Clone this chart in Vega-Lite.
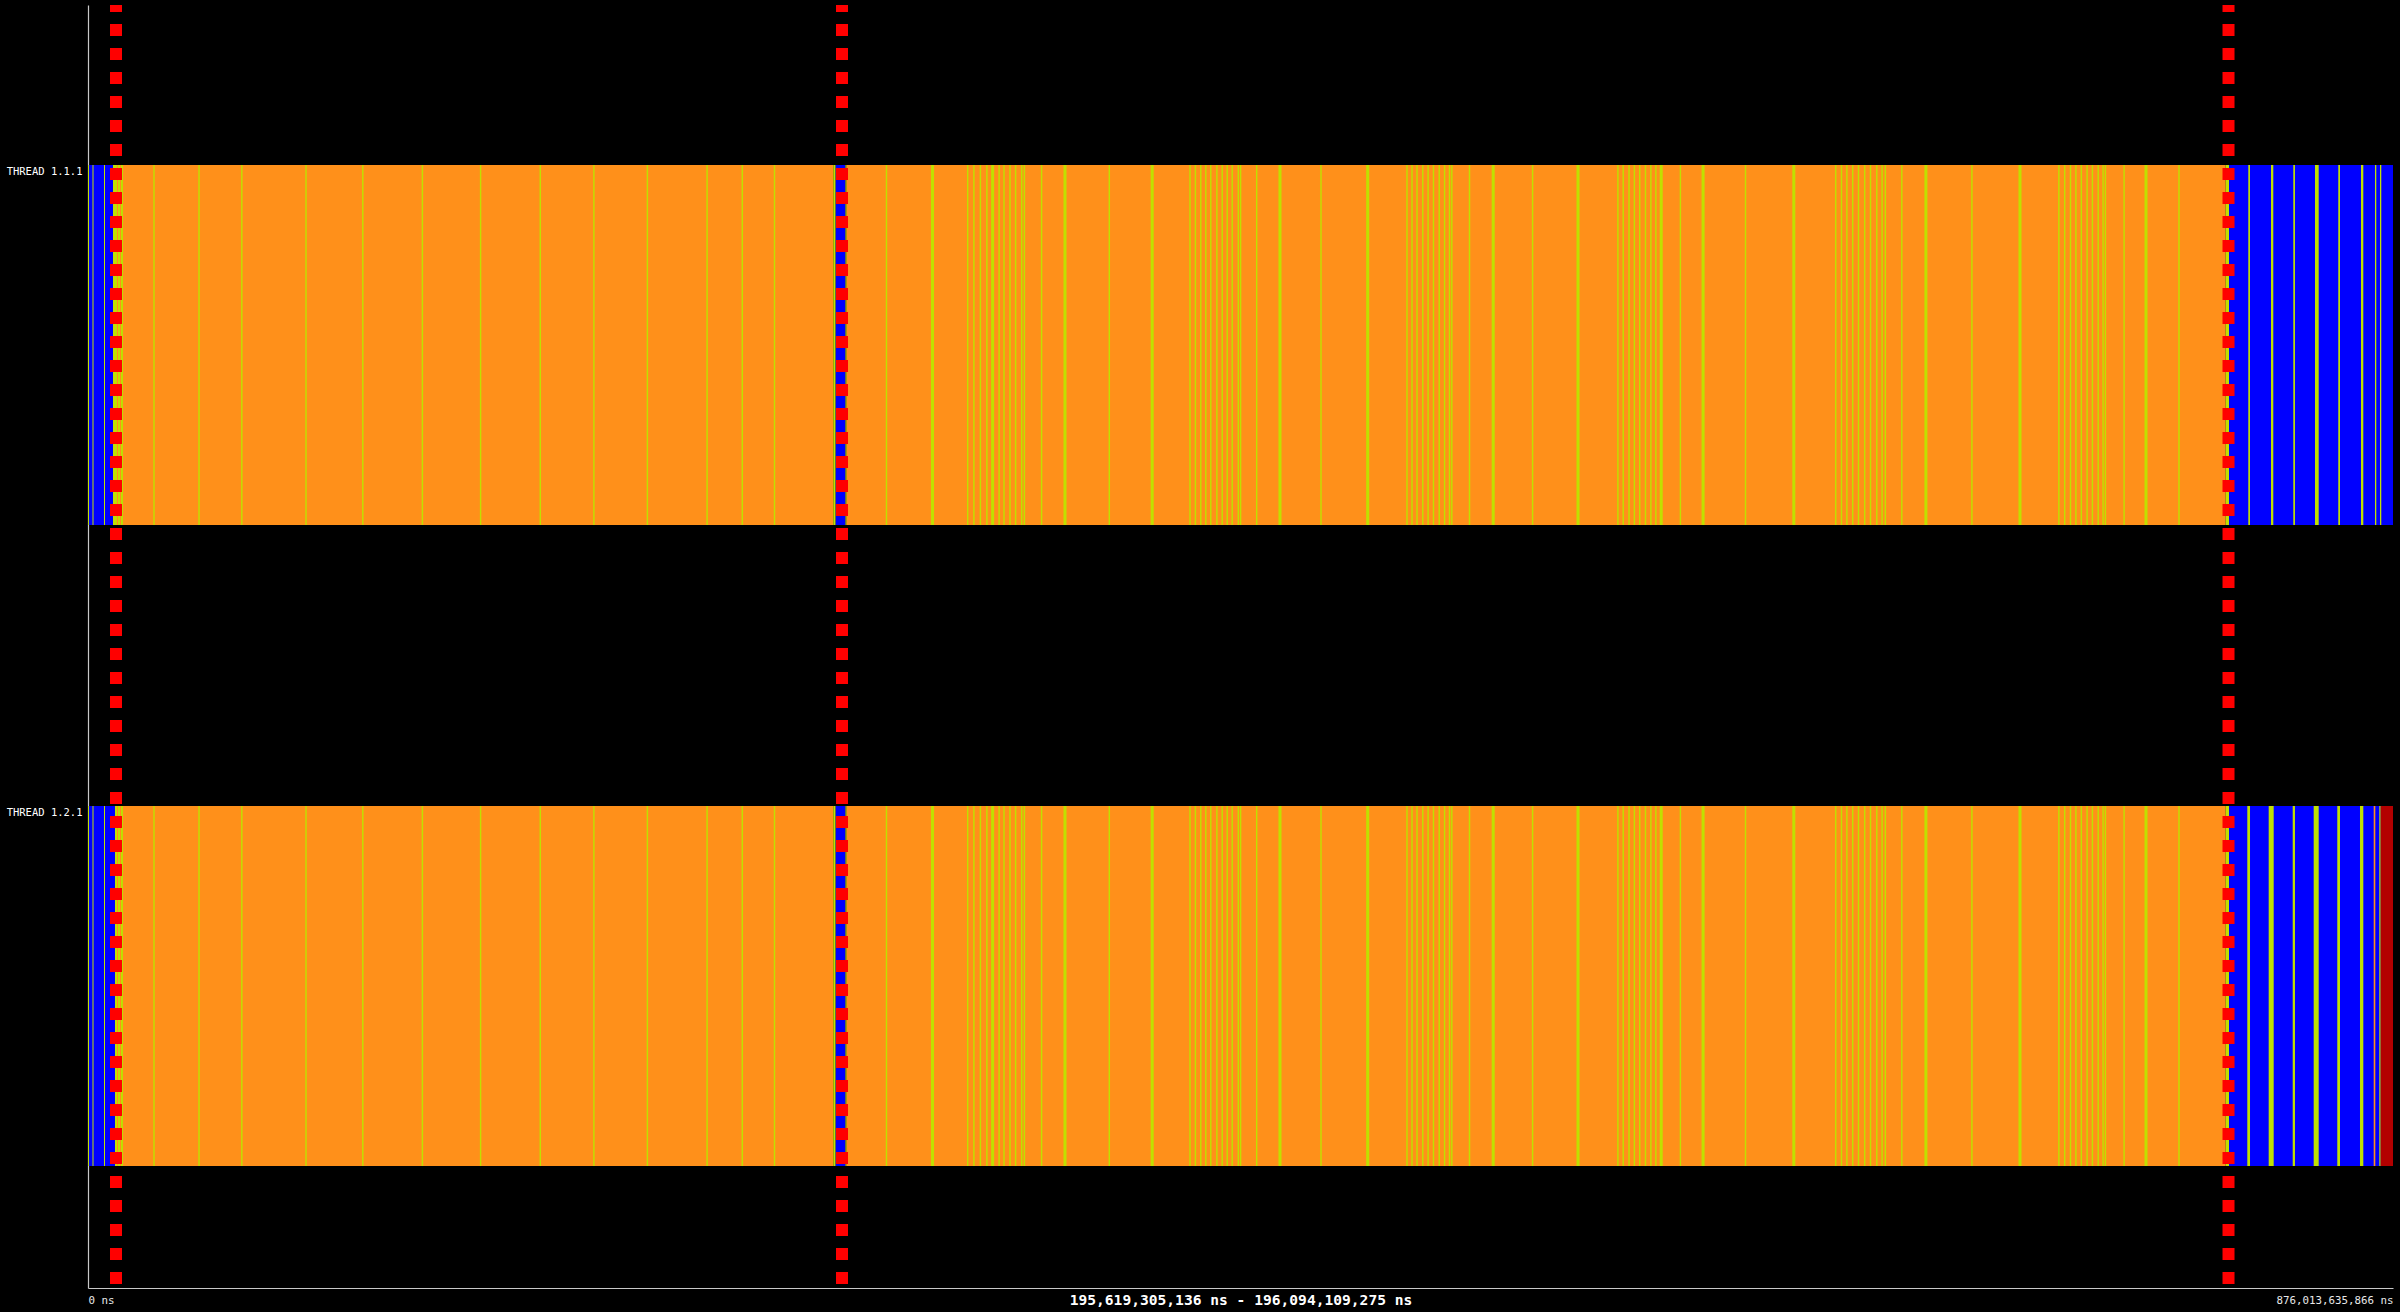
{
  "$schema": "https://vega.github.io/schema/vega-lite/v6.json",
  "width": 2305,
  "height": 1283,
  "autosize": {"type": "none"},
  "padding": {"left": 88, "top": 5, "right": 7, "bottom": 24},
  "background": "#000000",
  "config": {"view": {"stroke": null}, "font": "DejaVu Sans Mono"},
  "datasets": {
    "states": [
      {"thread": ["1.1.1", "1.2.1"], "state": "Others", "start": 0, "end": 0.38},
      {"thread": ["1.1.1"], "state": "Running", "start": 0.38, "end": 9.5},
      {"thread": ["1.2.1"], "state": "Running", "start": 0.38, "end": 10.26},
      {"thread": ["1.1.1", "1.2.1"], "state": "Others", "start": 1.71, "end": 2.09},
      {"thread": ["1.1.1", "1.2.1"], "state": "Others", "start": 6.08, "end": 6.46},
      {"thread": ["1.1.1"], "state": "Others", "start": 9.5, "end": 13.3},
      {"thread": ["1.2.1"], "state": "Others", "start": 10.26, "end": 13.3},
      {"thread": ["1.1.1", "1.2.1"], "state": "Group Communication", "start": 11.02, "end": 11.4},
      {"thread": ["1.1.1", "1.2.1"], "state": "Group Communication", "start": 12.16, "end": 12.54},
      {"thread": ["1.1.1", "1.2.1"], "state": "Group Communication", "start": 13.3, "end": 283.25},
      {"thread": ["1.1.1", "1.2.1"], "state": "Others", "start": 283.25, "end": 284.16},
      {"thread": ["1.1.1", "1.2.1"], "state": "Running", "start": 284.16, "end": 287.89},
      {"thread": ["1.1.1", "1.2.1"], "state": "Others", "start": 287.89, "end": 288.34},
      {"thread": ["1.1.1", "1.2.1"], "state": "Group Communication", "start": 288.34, "end": 812.43},
      {"thread": ["1.1.1", "1.2.1"], "state": "Others", "start": 812.43, "end": 813.69},
      {"thread": ["1.1.1", "1.2.1"], "state": "Running", "start": 813.69, "end": 876.013635866},
      {"thread": ["1.1.1", "1.2.1"], "state": "Others", "start": 24.81, "end": 25.36},
      {"thread": ["1.1.1", "1.2.1"], "state": "Others", "start": 41.91, "end": 42.46},
      {"thread": ["1.1.1", "1.2.1"], "state": "Others", "start": 58.18, "end": 58.73},
      {"thread": ["1.1.1", "1.2.1"], "state": "Others", "start": 82.58, "end": 83.13},
      {"thread": ["1.1.1", "1.2.1"], "state": "Others", "start": 104.16, "end": 104.71},
      {"thread": ["1.1.1", "1.2.1"], "state": "Others", "start": 126.81, "end": 127.36},
      {"thread": ["1.1.1", "1.2.1"], "state": "Others", "start": 148.93, "end": 149.48},
      {"thread": ["1.1.1", "1.2.1"], "state": "Others", "start": 171.62, "end": 172.17},
      {"thread": ["1.1.1", "1.2.1"], "state": "Others", "start": 191.99, "end": 192.54},
      {"thread": ["1.1.1", "1.2.1"], "state": "Others", "start": 212.32, "end": 212.87},
      {"thread": ["1.1.1", "1.2.1"], "state": "Others", "start": 235.01, "end": 235.56},
      {"thread": ["1.1.1", "1.2.1"], "state": "Others", "start": 248.39, "end": 248.94},
      {"thread": ["1.1.1", "1.2.1"], "state": "Others", "start": 260.63, "end": 261.18},
      {"thread": ["1.1.1", "1.2.1"], "state": "Others", "start": 303.19, "end": 303.74},
      {"thread": ["1.1.1", "1.2.1"], "state": "Others", "start": 320.38, "end": 321.53},
      {"thread": ["1.1.1", "1.2.1"], "state": "Others", "start": 334.05, "end": 334.6},
      {"thread": ["1.1.1", "1.2.1"], "state": "Others", "start": 336.41, "end": 336.96},
      {"thread": ["1.1.1", "1.2.1"], "state": "Others", "start": 338.88, "end": 339.43},
      {"thread": ["1.1.1", "1.2.1"], "state": "Others", "start": 341.35, "end": 341.9},
      {"thread": ["1.1.1", "1.2.1"], "state": "Others", "start": 343.22, "end": 344.37},
      {"thread": ["1.1.1", "1.2.1"], "state": "Others", "start": 345.99, "end": 346.54},
      {"thread": ["1.1.1", "1.2.1"], "state": "Others", "start": 347.85, "end": 348.4},
      {"thread": ["1.1.1", "1.2.1"], "state": "Others", "start": 350.13, "end": 350.68},
      {"thread": ["1.1.1", "1.2.1"], "state": "Others", "start": 352.26, "end": 352.81},
      {"thread": ["1.1.1", "1.2.1"], "state": "Others", "start": 354.58, "end": 355.13},
      {"thread": ["1.1.1", "1.2.1"], "state": "Others", "start": 355.6, "end": 356.15},
      {"thread": ["1.1.1", "1.2.1"], "state": "Others", "start": 362.14, "end": 362.69},
      {"thread": ["1.1.1", "1.2.1"], "state": "Others", "start": 370.73, "end": 371.88},
      {"thread": ["1.1.1", "1.2.1"], "state": "Others", "start": 387.87, "end": 388.42},
      {"thread": ["1.1.1", "1.2.1"], "state": "Others", "start": 403.87, "end": 405.02},
      {"thread": ["1.1.1", "1.2.1"], "state": "Others", "start": 418.54, "end": 419.09},
      {"thread": ["1.1.1", "1.2.1"], "state": "Others", "start": 420.59, "end": 421.14},
      {"thread": ["1.1.1", "1.2.1"], "state": "Others", "start": 422.64, "end": 423.19},
      {"thread": ["1.1.1", "1.2.1"], "state": "Others", "start": 424.54, "end": 425.09},
      {"thread": ["1.1.1", "1.2.1"], "state": "Others", "start": 426.44, "end": 426.99},
      {"thread": ["1.1.1", "1.2.1"], "state": "Others", "start": 428.76, "end": 429.31},
      {"thread": ["1.1.1", "1.2.1"], "state": "Others", "start": 430.78, "end": 431.33},
      {"thread": ["1.1.1", "1.2.1"], "state": "Others", "start": 432.68, "end": 433.23},
      {"thread": ["1.1.1", "1.2.1"], "state": "Others", "start": 434.58, "end": 435.13},
      {"thread": ["1.1.1", "1.2.1"], "state": "Others", "start": 436.9, "end": 437.45},
      {"thread": ["1.1.1", "1.2.1"], "state": "Others", "start": 437.77, "end": 438.32},
      {"thread": ["1.1.1", "1.2.1"], "state": "Others", "start": 443.89, "end": 444.44},
      {"thread": ["1.1.1", "1.2.1"], "state": "Others", "start": 452.44, "end": 453.59},
      {"thread": ["1.1.1", "1.2.1"], "state": "Others", "start": 468.33, "end": 468.88},
      {"thread": ["1.1.1", "1.2.1"], "state": "Others", "start": 485.77, "end": 486.92},
      {"thread": ["1.1.1", "1.2.1"], "state": "Others", "start": 501.01, "end": 501.56},
      {"thread": ["1.1.1", "1.2.1"], "state": "Others", "start": 502.91, "end": 503.46},
      {"thread": ["1.1.1", "1.2.1"], "state": "Others", "start": 504.81, "end": 505.36},
      {"thread": ["1.1.1", "1.2.1"], "state": "Others", "start": 507.01, "end": 507.56},
      {"thread": ["1.1.1", "1.2.1"], "state": "Others", "start": 509.03, "end": 509.58},
      {"thread": ["1.1.1", "1.2.1"], "state": "Others", "start": 511.08, "end": 511.63},
      {"thread": ["1.1.1", "1.2.1"], "state": "Others", "start": 513.25, "end": 513.8},
      {"thread": ["1.1.1", "1.2.1"], "state": "Others", "start": 515.3, "end": 515.85},
      {"thread": ["1.1.1", "1.2.1"], "state": "Others", "start": 517.16, "end": 517.71},
      {"thread": ["1.1.1", "1.2.1"], "state": "Others", "start": 518.04, "end": 518.59},
      {"thread": ["1.1.1", "1.2.1"], "state": "Others", "start": 524.76, "end": 525.31},
      {"thread": ["1.1.1", "1.2.1"], "state": "Others", "start": 533.47, "end": 534.62},
      {"thread": ["1.1.1", "1.2.1"], "state": "Others", "start": 548.74, "end": 549.29},
      {"thread": ["1.1.1", "1.2.1"], "state": "Others", "start": 565.7, "end": 566.85},
      {"thread": ["1.1.1", "1.2.1"], "state": "Others", "start": 581.16, "end": 581.71},
      {"thread": ["1.1.1", "1.2.1"], "state": "Others", "start": 583.18, "end": 583.73},
      {"thread": ["1.1.1", "1.2.1"], "state": "Others", "start": 585.38, "end": 585.93},
      {"thread": ["1.1.1", "1.2.1"], "state": "Others", "start": 587.43, "end": 587.98},
      {"thread": ["1.1.1", "1.2.1"], "state": "Others", "start": 589.45, "end": 590.0},
      {"thread": ["1.1.1", "1.2.1"], "state": "Others", "start": 591.65, "end": 592.2},
      {"thread": ["1.1.1", "1.2.1"], "state": "Others", "start": 593.7, "end": 594.25},
      {"thread": ["1.1.1", "1.2.1"], "state": "Others", "start": 595.57, "end": 596.12},
      {"thread": ["1.1.1", "1.2.1"], "state": "Others", "start": 597.32, "end": 598.47},
      {"thread": ["1.1.1", "1.2.1"], "state": "Others", "start": 604.92, "end": 605.47},
      {"thread": ["1.1.1", "1.2.1"], "state": "Others", "start": 613.24, "end": 614.39},
      {"thread": ["1.1.1", "1.2.1"], "state": "Others", "start": 629.66, "end": 630.21},
      {"thread": ["1.1.1", "1.2.1"], "state": "Others", "start": 647.71, "end": 648.86},
      {"thread": ["1.1.1", "1.2.1"], "state": "Others", "start": 663.94, "end": 664.49},
      {"thread": ["1.1.1", "1.2.1"], "state": "Others", "start": 666.14, "end": 666.69},
      {"thread": ["1.1.1", "1.2.1"], "state": "Others", "start": 668.19, "end": 668.74},
      {"thread": ["1.1.1", "1.2.1"], "state": "Others", "start": 670.4, "end": 670.95},
      {"thread": ["1.1.1", "1.2.1"], "state": "Others", "start": 672.6, "end": 673.15},
      {"thread": ["1.1.1", "1.2.1"], "state": "Others", "start": 674.96, "end": 675.51},
      {"thread": ["1.1.1", "1.2.1"], "state": "Others", "start": 677.16, "end": 677.71},
      {"thread": ["1.1.1", "1.2.1"], "state": "Others", "start": 679.56, "end": 680.11},
      {"thread": ["1.1.1", "1.2.1"], "state": "Others", "start": 681.57, "end": 682.12},
      {"thread": ["1.1.1", "1.2.1"], "state": "Others", "start": 682.79, "end": 683.34},
      {"thread": ["1.1.1", "1.2.1"], "state": "Others", "start": 689.06, "end": 689.61},
      {"thread": ["1.1.1", "1.2.1"], "state": "Others", "start": 697.92, "end": 699.07},
      {"thread": ["1.1.1", "1.2.1"], "state": "Others", "start": 715.7, "end": 716.25},
      {"thread": ["1.1.1", "1.2.1"], "state": "Others", "start": 733.68, "end": 734.83},
      {"thread": ["1.1.1", "1.2.1"], "state": "Others", "start": 748.76, "end": 749.31},
      {"thread": ["1.1.1", "1.2.1"], "state": "Others", "start": 750.97, "end": 751.52},
      {"thread": ["1.1.1", "1.2.1"], "state": "Others", "start": 753.17, "end": 753.72},
      {"thread": ["1.1.1", "1.2.1"], "state": "Others", "start": 755.22, "end": 755.77},
      {"thread": ["1.1.1", "1.2.1"], "state": "Others", "start": 757.28, "end": 757.83},
      {"thread": ["1.1.1", "1.2.1"], "state": "Others", "start": 759.48, "end": 760.03},
      {"thread": ["1.1.1", "1.2.1"], "state": "Others", "start": 761.5, "end": 762.05},
      {"thread": ["1.1.1", "1.2.1"], "state": "Others", "start": 763.7, "end": 764.25},
      {"thread": ["1.1.1", "1.2.1"], "state": "Others", "start": 765.56, "end": 766.11},
      {"thread": ["1.1.1", "1.2.1"], "state": "Others", "start": 766.44, "end": 766.99},
      {"thread": ["1.1.1", "1.2.1"], "state": "Others", "start": 773.54, "end": 774.09},
      {"thread": ["1.1.1", "1.2.1"], "state": "Others", "start": 781.57, "end": 782.72},
      {"thread": ["1.1.1", "1.2.1"], "state": "Others", "start": 794.41, "end": 794.96},
      {"thread": ["1.1.1"], "state": "Others", "start": 821.02, "end": 821.66},
      {"thread": ["1.1.1"], "state": "Others", "start": 829.65, "end": 830.52},
      {"thread": ["1.1.1"], "state": "Others", "start": 838.12, "end": 838.76},
      {"thread": ["1.1.1"], "state": "Others", "start": 846.37, "end": 847.78},
      {"thread": ["1.1.1"], "state": "Others", "start": 855.22, "end": 855.87},
      {"thread": ["1.1.1"], "state": "Others", "start": 863.85, "end": 864.73},
      {"thread": ["1.1.1"], "state": "Others", "start": 869.17, "end": 869.66},
      {"thread": ["1.1.1"], "state": "Others", "start": 871.07, "end": 871.56},
      {"thread": ["1.2.1"], "state": "Others", "start": 820.64, "end": 821.67},
      {"thread": ["1.2.1"], "state": "Others", "start": 828.77, "end": 830.67},
      {"thread": ["1.2.1"], "state": "Others", "start": 837.9, "end": 838.76},
      {"thread": ["1.2.1"], "state": "Others", "start": 845.87, "end": 847.78},
      {"thread": ["1.2.1"], "state": "Others", "start": 854.84, "end": 855.87},
      {"thread": ["1.2.1"], "state": "Others", "start": 863.47, "end": 864.73},
      {"thread": ["1.2.1"], "state": "Group Communication", "start": 868.68, "end": 869.29},
      {"thread": ["1.2.1"], "state": "Others", "start": 870.81, "end": 871.34},
      {"thread": ["1.2.1"], "state": "Synchronization", "start": 871.34, "end": 876.013635866}
    ],
    "flags": [
      {"t": 10.64},
      {"t": 286.56},
      {"t": 813.5}
    ]
  },
  "layer": [
    {
      "data": {"name": "states"},
      "transform": [{"flatten": ["thread"]}],
      "mark": {"type": "bar", "stroke": null},
      "encoding": {
        "x": {
          "field": "start",
          "type": "quantitative",
          "scale": {"domain": [0, 876.013635866], "nice": false, "zero": false},
          "axis": {
            "values": [0, 876.013635866],
            "labelExpr": "format(datum.value * 1e9, ',.0f') + ' ns'",
            "labelFlush": true,
            "labelFont": "DejaVu Sans Mono",
            "labelFontSize": 10.8,
            "labelColor": "#e8e8e8",
            "labelPadding": 6,
            "ticks": false,
            "grid": false,
            "domainColor": "#c8c8c8",
            "domainWidth": 1.2,
            "title": "195,619,305,136 ns - 196,094,109,275 ns",
            "titleFont": "DejaVu Sans Mono",
            "titleFontSize": 14.6,
            "titleFontWeight": "bold",
            "titleColor": "#ffffff",
            "titleBaseline": "middle",
            "titleY": 12,
            "titleAnchor": "middle"
          }
        },
        "x2": {"field": "end"},
        "y": {
          "field": "thread",
          "type": "nominal",
          "sort": ["1.1.1", "1.2.1"],
          "scale": {"paddingInner": 0.4384, "paddingOuter": 0.22, "align": 0.567},
          "axis": {
            "title": null,
            "labelExpr": "'THREAD ' + datum.value",
            "labelFont": "DejaVu Sans Mono",
            "labelFontSize": 10.5,
            "labelColor": "#ffffff",
            "labelPadding": 6,
            "labelOffset": -173,
            "labelAlign": "right",
            "labelBaseline": "middle",
            "ticks": false,
            "grid": false,
            "domainColor": "#c8c8c8",
            "domainWidth": 1.2
          }
        },
        "color": {
          "field": "state",
          "type": "nominal",
          "scale": {
            "domain": ["Running", "Group Communication", "Others", "Synchronization"],
            "range": ["#0000ff", "#ff901a", "#c0e000", "#b30000"]
          },
          "legend": null
        }
      }
    },
    {
      "data": {"name": "flags"},
      "mark": {"type": "rule", "color": "#ff0000", "strokeWidth": 12, "strokeDash": [12, 12], "strokeDashOffset": 5},
      "encoding": {
        "x": {"field": "t", "type": "quantitative"}
      }
    }
  ]
}
